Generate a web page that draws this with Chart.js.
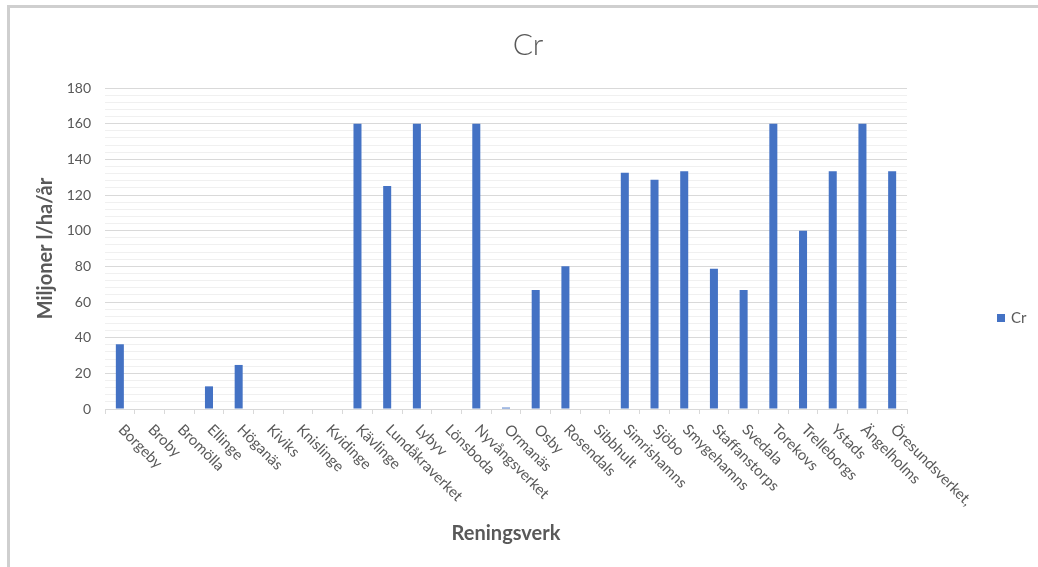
<!DOCTYPE html>
<html>
<head>
<meta charset="utf-8">
<script src="https://cdn.jsdelivr.net/npm/chart.js@4.4.1/dist/chart.umd.min.js"></script>
<style>
    body { margin: 0; background: #ffffff; }
    #wrap { position: relative; width: 1038px; height: 567px; }
    #moldura {
        position: absolute; left: 7px; top: 5px; right: 0; bottom: 0;
        border-top: 3px solid #cfcfcf; border-left: 3px solid #cfcfcf;
        pointer-events: none;
    }
</style>
</head>
<body>
<div id="wrap">
    <canvas id="graficoCr" width="1038" height="567"></canvas>
    <div id="moldura"></div>
</div>
<script>
var reningsverk = ["Borgeby", "Broby", "Bromölla", "Ellinge", "Höganäs", "Kiviks", "Knislinge", "Kvidinge",
    "Kävlinge", "Lundåkraverket", "Lybyv", "Lönsboda", "Nyvångsverket", "Ormanäs", "Osby", "Rosendals",
    "Sibbhult", "Simrishamns", "Sjöbo", "Smygehamns", "Staffanstorps", "Svedala", "Torekovs",
    "Trelleborgs", "Ystads", "Ängelholms", "Öresundsverket,"];
var valoresCr = [36.3, 0, 0, 12.7, 24.7, 0, 0, 0,
    160, 125, 160, 0, 160, 0.8, 66.7, 80,
    0, 132.5, 128.6, 133.3, 78.6, 66.7, 160,
    100, 133.3, 160, 133.3];
var tituloGrafico = "Cr";
var tituloY = "Miljoner l/ha/år";
var tituloX = "Reningsverk";
var yMin = 0;
var yMax = 180;
var yPassoMaior = 20;
var yPassoMenor = 4;

var corBarra = "#4472C4";
var corTexto = "#595959";
var fonteBase = "Lato, 'Open Sans', sans-serif";

Chart.defaults.font.family = fonteBase;
Chart.defaults.color = corTexto;

// titulo, legenda e rotulos do eixo x desenhados a mao (rotacao no sentido do Excel)
var extras = {
    id: "extras",
    afterDraw: function (chart) {
        var ctx = chart.ctx;
        var escalaX = chart.scales.x;
        ctx.save();

        ctx.fillStyle = corTexto;
        ctx.font = "300 30px " + fonteBase;
        ctx.textAlign = "center";
        ctx.textBaseline = "middle";
        ctx.fillText(tituloGrafico, 528, 45);

        ctx.font = "15px " + fonteBase;
        ctx.textAlign = "left";
        for (var i = 0; i < reningsverk.length; i++) {
            var px = escalaX.getPixelForValue(i);
            ctx.save();
            ctx.translate(px + 1, 427);
            ctx.rotate(Math.PI / 4);
            ctx.fillText(reningsverk[i], 0, 0);
            ctx.restore();
        }

        ctx.fillStyle = corBarra;
        ctx.fillRect(997, 314, 8, 8);
        ctx.fillStyle = corTexto;
        ctx.font = "15px " + fonteBase;
        ctx.textBaseline = "middle";
        ctx.fillText(chart.data.datasets[0].label, 1011, 318);
        ctx.restore();
    }
};

new Chart(document.getElementById("graficoCr"), {
    type: "bar",
    data: {
        labels: reningsverk,
        datasets: [{
            label: tituloGrafico,
            data: valoresCr,
            backgroundColor: corBarra,
            categoryPercentage: 1,
            barPercentage: 0.27
        }]
    },
    options: {
        responsive: false,
        animation: false,
        layout: { padding: { top: 88, right: 131, bottom: 0, left: 0 } },
        plugins: {
            legend: { display: false },
            title: { display: false },
            tooltip: { enabled: false }
        },
        scales: {
            x: {
                offset: true,
                grid: {
                    offset: true,
                    drawOnChartArea: false,
                    drawTicks: true,
                    tickLength: 5,
                    color: "#d9d9d9"
                },
                border: { color: "#d9d9d9" },
                ticks: { display: false },
                title: {
                    display: true,
                    text: tituloX,
                    color: corTexto,
                    font: { size: 20, weight: "bold" },
                    padding: { top: 0, bottom: 21 }
                },
                afterFit: function (escala) {
                    escala.height = 567 - 409;
                }
            },
            y: {
                min: yMin,
                max: yMax,
                border: { display: false },
                grid: {
                    drawTicks: false,
                    color: function (c) {
                        return c.tick && c.tick.value % yPassoMaior === 0 ? "#d9d9d9" : "#f0f0f0";
                    }
                },
                ticks: {
                    stepSize: yPassoMenor,
                    autoSkip: false,
                    padding: 14,
                    font: { size: 14 },
                    color: corTexto,
                    callback: function (v) {
                        return v % yPassoMaior === 0 ? v : "";
                    }
                },
                title: {
                    display: true,
                    text: tituloY,
                    color: corTexto,
                    font: { size: 20, weight: "bold" },
                    padding: { top: 34, bottom: 0 }
                },
                afterFit: function (escala) {
                    escala.width = 105;
                }
            }
        }
    },
    plugins: [extras]
});
</script>
</body>
</html>
